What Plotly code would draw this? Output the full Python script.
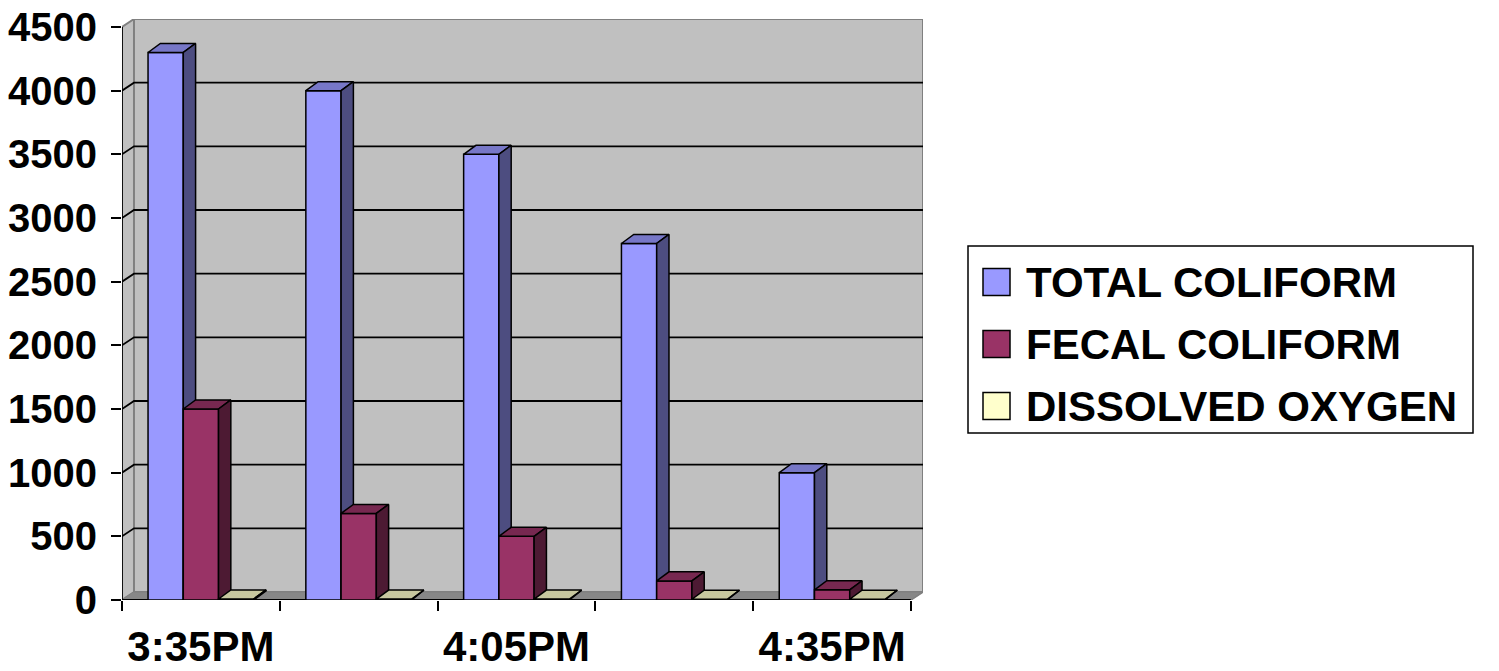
import plotly.graph_objects as go

# ---- data -------------------------------------------------------------
times = ["3:35PM", "3:50PM", "4:05PM", "4:20PM", "4:35PM"]
total_coliform = [4300, 4000, 3500, 2800, 1000]
fecal_coliform = [1500, 680, 500, 150, 80]
dissolved_oxygen = [8, 7, 7, 6, 6]

series_names = ["TOTAL COLIFORM", "FECAL COLIFORM", "DISSOLVED OXYGEN"]
series_values = [total_coliform, fecal_coliform, dissolved_oxygen]

y_ticks = list(range(0, 4501, 500))

# ---- styling ------------------------------------------------------------
front_colors = ["#9999FF", "#993366", "#FFFFCC"]
top_colors = ["#7777C7", "#772850", "#C7C79F"]
side_colors = ["#4D4D80", "#4D1A33", "#808066"]

FONT = "Liberation Sans, Arial, sans-serif"
FS = 42

W, H = 1499, 671
ML, MR, MT, MB = 122, 576, 19, 71
PW, PH = W - ML - MR, H - MT - MB

# oblique depth of the walls and the columns (data units)
WALL_DX, WALL_DY = 0.076, 63
BAR_DX, BAR_DY = 0.078, 71

GROUP = 0.67
BW = GROUP / 3
Y_TOP = y_ticks[-1]
XR = [-0.5, len(times) - 0.5 + WALL_DX]
YR = [0, Y_TOP + WALL_DY]

xs = list(range(len(times)))
fig = go.Figure()


def poly(px, py, fill, line_color="black", width=1.5, axes=("x", "y")):
    return go.Scatter(x=px, y=py, mode="lines", fill="toself", fillcolor=fill,
                      line=dict(color=line_color, width=width), hoverinfo="skip",
                      showlegend=False, cliponaxis=False,
                      xaxis=axes[0], yaxis=axes[1])


def line(px, py, color, width=1.5):
    return go.Scatter(x=px, y=py, mode="lines", line=dict(color=color, width=width),
                      hoverinfo="skip", showlegend=False, cliponaxis=False)


x0, x1 = XR[0], len(times) - 0.5
# back wall
fig.add_trace(poly([x0 + WALL_DX, x1 + WALL_DX, x1 + WALL_DX, x0 + WALL_DX],
                   [WALL_DY, WALL_DY, Y_TOP + WALL_DY, Y_TOP + WALL_DY],
                   "#C0C0C0", "#808080", 2))
# left side wall
fig.add_trace(poly([x0, x0 + WALL_DX, x0 + WALL_DX, x0],
                   [0, WALL_DY, Y_TOP + WALL_DY, Y_TOP],
                   "#C0C0C0", "#808080", 2))
# floor
fig.add_trace(poly([x0, x1, x1 + WALL_DX, x0 + WALL_DX],
                   [0, 0, WALL_DY, WALL_DY], "#878787", "#808080", 1))

# gridlines across the side wall and back wall
gx, gy = [], []
for v in y_ticks[1:-1]:
    gx += [x0, x0 + WALL_DX, x1 + WALL_DX, None]
    gy += [v, v + WALL_DY, v + WALL_DY, None]
fig.add_trace(line(gx, gy, "black", 1.8))

# front edges of the frame
fig.add_trace(line([x0, x0, x1], [Y_TOP, 0, 0], "black", 1.8))
fig.add_trace(line([x1, x1 + WALL_DX], [0, WALL_DY], "#808080", 1.5))

# ---- columns: one overlaid subplot per series so later series sit in front
for i, (name, vals) in enumerate(zip(series_names, series_values)):
    xa, ya = f"x{i + 2}", f"y{i + 2}"
    off = -GROUP / 2 + i * BW
    fig.add_trace(go.Bar(
        x=xs, y=vals, name=name, width=BW, offset=off,
        marker=dict(color=front_colors[i], line=dict(color="black", width=1.5)),
        hoverinfo="skip", showlegend=False, xaxis=xa, yaxis=ya))

    tx, ty, sx, sy = [], [], [], []
    for c, v in zip(xs, vals):
        l, r = c + off, c + off + BW
        tx += [l, r, r + BAR_DX, l + BAR_DX, l, None]
        ty += [v, v, v + BAR_DY, v + BAR_DY, v, None]
        sx += [r, r + BAR_DX, r + BAR_DX, r, r, None]
        sy += [0, BAR_DY, v + BAR_DY, v, 0, None]
    fig.add_trace(poly(tx, ty, top_colors[i], axes=(xa, ya)))
    fig.add_trace(poly(sx, sy, side_colors[i], axes=(xa, ya)))

# ---- axes -------------------------------------------------------------
font = dict(family=FONT, size=FS, color="black", weight="bold")
yfont = dict(family=FONT, size=40, color="black", weight="bold")
layout_axes = {}
for k in range(2, 5):
    layout_axes[f"xaxis{k}"] = dict(range=XR, overlaying="x", visible=False,
                                    fixedrange=True, automargin=False)
    layout_axes[f"yaxis{k}"] = dict(range=YR, overlaying="y", visible=False,
                                    fixedrange=True, automargin=False)

fig.update_layout(
    width=W, height=H,
    margin=dict(l=ML, r=MR, t=MT, b=MB, pad=0, autoexpand=False),
    paper_bgcolor="white", plot_bgcolor="rgba(0,0,0,0)",
    showlegend=False,
    xaxis=dict(range=XR, showgrid=False, zeroline=False, showline=False,
               tickmode="array", tickvals=xs,
               ticktext=[t if j % 2 == 0 else "" for j, t in enumerate(times)],
               ticks="", tickfont=font, ticklabelstandoff=18,
               minor=dict(tickmode="array",
                          tickvals=[c - 0.5 for c in range(len(times) + 1)],
                          ticks="outside", ticklen=10, tickwidth=1.8,
                          tickcolor="black", showgrid=False),
               automargin=False, fixedrange=True),
    yaxis=dict(range=YR, showgrid=False, zeroline=False, showline=False,
               tickmode="array", tickvals=y_ticks, ticks="outside",
               ticklen=10, tickwidth=1.8, tickcolor="black",
               tickfont=yfont, ticklabelstandoff=6, automargin=False,
               fixedrange=True),
    **layout_axes,
)

# ---- legend box ----------------------------------------------------------


def px_x(p):
    return (p - ML) / PW


def px_y(p):
    return (H - MB - p) / PH


fig.add_shape(type="rect", xref="paper", yref="paper",
              x0=px_x(968), x1=px_x(1473), y0=px_y(433), y1=px_y(246),
              fillcolor="white", line=dict(color="black", width=1.5))
row_y = [282, 344, 406]
for i, name in enumerate(series_names):
    cy = row_y[i]
    fig.add_shape(type="rect", xref="paper", yref="paper",
                  x0=px_x(983), x1=px_x(1010), y0=px_y(cy + 13.5),
                  y1=px_y(cy - 13.5), fillcolor=front_colors[i],
                  line=dict(color="black", width=1.5))
    fig.add_annotation(xref="paper", yref="paper", x=px_x(1024), y=px_y(cy),
                       xanchor="left", yanchor="middle", text=name,
                       showarrow=False, font=font)

fig.write_html("out.html")
